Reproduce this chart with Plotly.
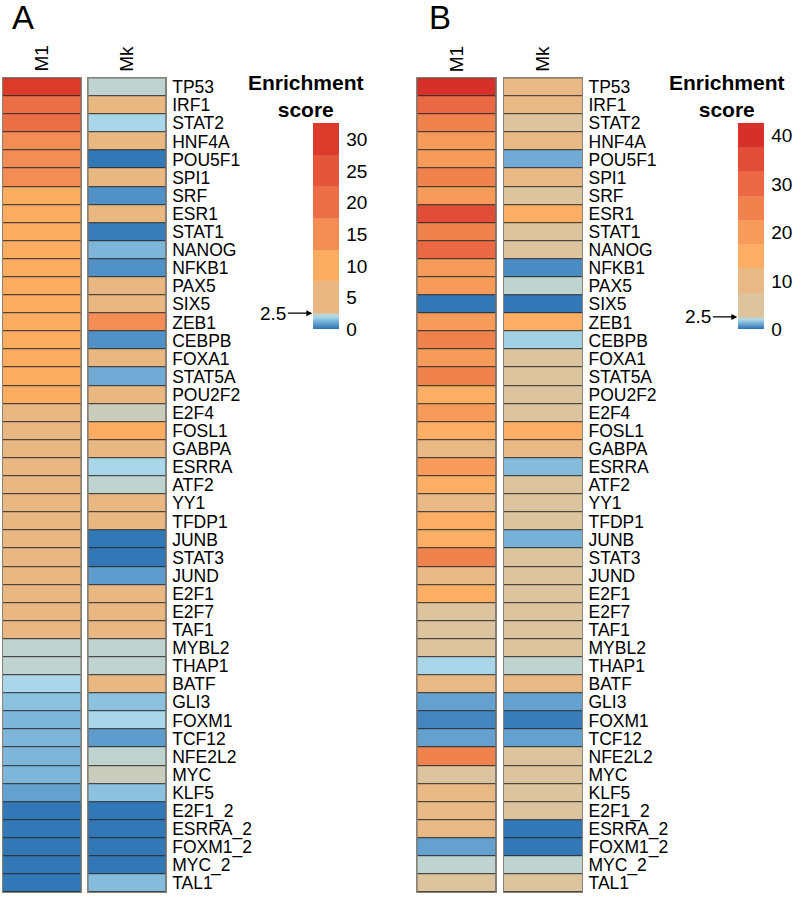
import plotly.graph_objects as go

# ---- data ----
genes = ["TP53", "IRF1", "STAT2", "HNF4A", "POU5F1", "SPI1", "SRF", "ESR1", "STAT1",
         "NANOG", "NFKB1", "PAX5", "SIX5", "ZEB1", "CEBPB", "FOXA1", "STAT5A", "POU2F2",
         "E2F4", "FOSL1", "GABPA", "ESRRA", "ATF2", "YY1", "TFDP1", "JUNB", "STAT3",
         "JUND", "E2F1", "E2F7", "TAF1", "MYBL2", "THAP1", "BATF", "GLI3", "FOXM1",
         "TCF12", "NFE2L2", "MYC", "KLF5", "E2F1_2", "ESRRA_2", "FOXM1_2", "MYC_2", "TAL1"]
columns = ["M1", "Mk"]

a_m1 = [30, 20, 20, 15, 15, 15, 10, 10, 10, 10, 10, 10, 10, 10, 10, 10, 10, 10,
        5, 5, 5, 5, 5, 5, 5, 5, 5, 5, 5, 5, 5, 2.2, 2.2, 1.9, 1.5, 1.3,
        1.3, 1.3, 1.3, 0.9, 0.1, 0.1, 0.1, 0.1, 0.1]
a_mk = [2.2, 5, 1.9, 5, 0.1, 5, 0.6, 5, 0.2, 1.3, 0.6, 5, 5, 15, 0.6, 5, 1.1, 5,
        2.4, 10, 5, 1.9, 2.2, 5, 5, 0.1, 0.1, 0.8, 5, 5, 5, 2.2, 2.2, 5, 1.5, 1.9,
        0.8, 2.2, 2.4, 1.5, 0.1, 0.1, 0.1, 0.1, 1.4]
b_m1 = [40, 30, 25, 20, 20, 25, 20, 35, 25, 30, 20, 20, 0.1, 20, 25, 20, 25, 15,
        20, 15, 10, 20, 15, 10, 15, 15, 25, 10, 15, 5, 5, 5, 1.9, 10, 0.9, 0.4,
        0.9, 25, 5, 10, 10, 10, 0.9, 2.2, 5]
b_mk = [10, 10, 5, 10, 1.1, 10, 5, 15, 5, 5, 0.5, 2.2, 0.1, 15, 1.8, 5, 5, 5,
        5, 15, 10, 1.4, 5, 5, 5, 1.2, 5, 5, 5, 5, 5, 5, 2.2, 10, 0.9, 0.2,
        0.9, 5, 5, 5, 5, 0.1, 0.1, 2.2, 5]

a_ticks = [0, 5, 10, 15, 20, 25, 30]
b_ticks = [0, 10, 20, 30, 40]
cutoff = 2.5

# colours
blue_stops = [(0, "#2c72b2"), (0.5, "#4a8cc4"), (1.0, "#6aa6d2"), (1.5, "#8cc1df"),
              (1.9, "#a9d6e8"), (2.2, "#bfd3cf"), (2.5, "#d0c8b2")]
a_bins = ["#e9b882", "#fdad62", "#f38c55", "#ec6e47", "#e5553a", "#dc3a2a"]
b_bins = ["#dcc49e", "#e9b985", "#fcae64", "#f79b5a", "#f0824e", "#ea6843",
          "#e24d37", "#d7302a"]


def make_scale(bins):
    zmax = cutoff + 5 * len(bins)
    cs = [[v / zmax, c] for v, c in blue_stops]
    for i, c in enumerate(bins):
        lo = cutoff + 5 * i
        cs.append([lo / zmax, c])
        cs.append([(lo + 5) / zmax, c])
    return cs, zmax


W, H = 794, 897
fig = go.Figure()

panels = [
    ("A", [a_m1, a_mk], a_bins, a_ticks, [(2.7, 80.7), (88.3, 165.7)], 313.3, 306),
    ("B", [b_m1, b_mk], b_bins, b_ticks, [(417.3, 495.7), (504, 582)], 738.3, 727),
]
y_dom = [1 - 893.3 / H, 1 - 77.3 / H]
cb_top, cb_len = 122.7, 206

n = 0
for p, (letter, series, bins, ticks, cols, cbx, titlex) in enumerate(panels):
    cs, zmax = make_scale(bins)
    ca = "coloraxis" if p == 0 else "coloraxis2"
    fig.layout[ca] = dict(
        colorscale=cs, cmin=0, cmax=zmax,
        colorbar=dict(x=cbx / W, xanchor="left", xpad=0, y=1 - cb_top / H, yanchor="top",
                      ypad=0, len=cb_len, lenmode="pixels", thickness=26, thicknessmode="pixels",
                      outlinewidth=0, tickvals=ticks, ticks="outside", ticklen=4,
                      tickcolor="rgba(0,0,0,0)", tickfont=dict(size=19, color="black")),
    )
    for c, (vals, (x0, x1)) in enumerate(zip(series, cols)):
        n += 1
        sx = "" if n == 1 else str(n)
        fig.add_trace(go.Heatmap(
            x=[columns[c]], y=genes, z=[[v] for v in vals], coloraxis=ca,
            ygap=1, xaxis="x" + sx, yaxis="y" + sx, hoverinfo="skip"))
        fig.layout["xaxis" + sx] = dict(domain=[x0 / W, x1 / W], anchor="y" + sx,
                                        showticklabels=False, ticks="", showgrid=False,
                                        zeroline=False, showline=True, mirror=True,
                                        linecolor="#8c8175", linewidth=1, fixedrange=True)
        fig.layout["yaxis" + sx] = dict(domain=y_dom, anchor="x" + sx, autorange="reversed",
                                        tickmode="array", tickvals=genes,
                                        showticklabels=(c == 1), side="right", ticks="",
                                        ticklabelstandoff=2, showgrid=False, zeroline=False,
                                        showline=True, mirror=True, linecolor="#8c8175",
                                        linewidth=1, tickfont=dict(size=17.5, color="black"))
        fig.add_annotation(text=columns[c], textangle=-90, x=(x0 + x1) / 2 / W, y=1 - 73 / H,
                           xref="paper", yref="paper", xanchor="center", yanchor="bottom",
                           showarrow=False, font=dict(size=19, color="black"))

    # panel letter
    fig.add_annotation(text=letter, x=cols[0][0] / W + (0.009 if p == 0 else 0.012), y=1.004,
                       xref="paper", yref="paper", xanchor="left", yanchor="top",
                       showarrow=False, font=dict(size=33, color="black"))
    # legend title
    fig.add_annotation(text="<b>Enrichment<br>score</b>", x=titlex / W, y=1 - 68 / H,
                       xref="paper", yref="paper", xanchor="center", yanchor="top",
                       showarrow=False, font=dict(size=21, color="black"))
    # cutoff arrow
    y_cut = 1 - (cb_top + cb_len * (1 - cutoff / zmax)) / H
    fig.add_annotation(text=str(cutoff), x=cbx / W, y=y_cut, xref="paper", yref="paper",
                       showarrow=True, ax=-40, ay=0, arrowhead=2, arrowsize=1, arrowwidth=1.2,
                       arrowcolor="black", standoff=1, font=dict(size=19, color="black"))

fig.update_layout(width=W, height=H, margin=dict(l=0, r=0, t=0, b=0),
                  paper_bgcolor="white", plot_bgcolor="#2b2b2b",
                  font=dict(family="Liberation Sans, Arial, sans-serif", color="black"))

# the page body has a default 8px margin; drop it so the figure fills the window
fig.write_html("out.html", config={"displayModeBar": False},
               post_script="document.body.style.margin='0';")
